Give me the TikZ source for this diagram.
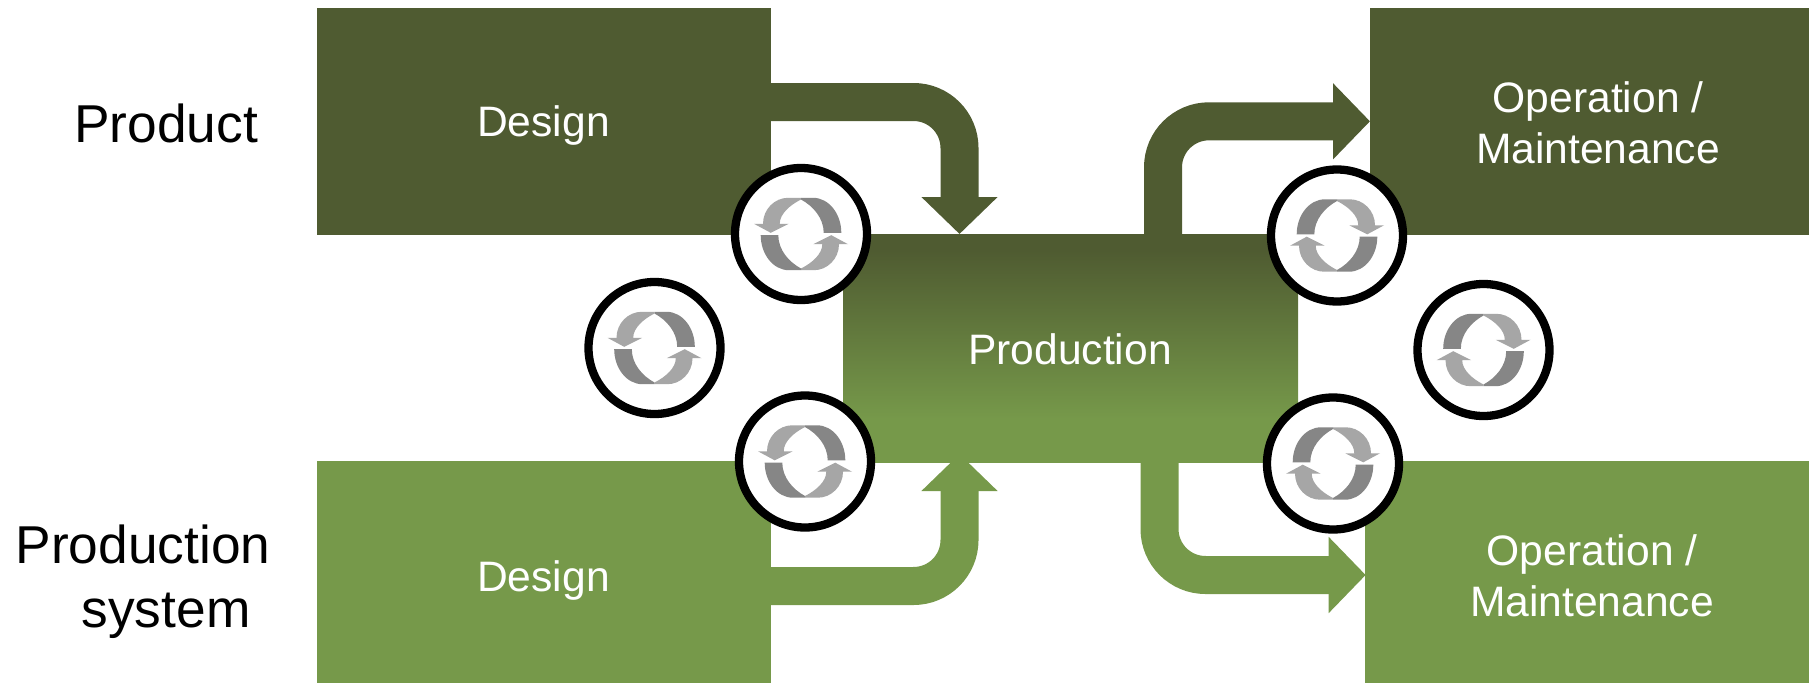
\documentclass[tikz,border=0pt]{standalone}
\usepackage{fontspec}
\setmainfont{Liberation Sans}
\usetikzlibrary{arrows.meta,calc}
\definecolor{darkg}{HTML}{4F5B31}
\definecolor{lightg}{HTML}{76994A}
\definecolor{iconlight}{HTML}{A6A6A6}
\definecolor{icondark}{HTML}{868686}
\pgfdeclareverticalshading{prodgrad}{100bp}{color(0bp)=(lightg); color(34.4bp)=(lightg); color(71.5bp)=(darkg); color(100bp)=(darkg)}
\tikzset{
  blockbox/.style={inner sep=0pt,outer sep=0pt,anchor=north west},
  boxtext/.style={text=white,font=\fontsize{42.6}{51.2}\selectfont,align=center},
  sidetext/.style={text=black,font=\fontsize{53.3}{64}\selectfont,align=center},
  blockarrow/.style={line width=38pt,rounded corners=46pt,-{Triangle[width=74pt,length=37pt]}},
  ring/.style={circle,draw=black,line width=8.3pt,fill=white,minimum size=132pt,inner sep=0pt,outer sep=0pt},
  pics/syncicon/.style={code={
    \foreach \r in {0,180}{
      \begin{scope}[rotate=\r]
        \fill[iconlight] (-38,-10.2) .. controls (-38,-25) and (-26,-36.2) .. (-13,-36.2) -- (0,-36.2) -- (0,-34.5)
          .. controls (-11,-29) and (-21.3,-20) .. (-21.3,-10.2) -- (-12.3,-10.2) -- (-30.3,-1.2) -- (-47,-10.2) -- cycle;
        \fill[icondark] (0,-34.5) -- (0,-36.2) -- (12,-36.2) .. controls (28,-36.2) and (40.3,-20) .. (40.3,-1.2)
          -- (22.7,-1.2) .. controls (22.7,-16) and (12,-28) .. (0,-34.5) -- cycle;
      \end{scope}
    }
  }}
}
\begin{document}
\begin{tikzpicture}[x=1pt,y=-1pt]
\useasboundingbox (0,0) rectangle (1809,683);
% boxes
\node[blockbox,fill=darkg,minimum width=454pt,minimum height=227pt] (d1) at (317,8) {};
\node[blockbox,fill=lightg,minimum width=454pt,minimum height=222pt] (d2) at (317,461) {};
\node[blockbox,shade,shading=prodgrad,minimum width=455pt,minimum height=228pt] (prod) at (843,234) {};
\node[blockbox,fill=darkg,minimum width=439pt,minimum height=227pt] (o1) at (1370,8) {};
\node[blockbox,fill=lightg,minimum width=444pt,minimum height=222pt] (o2) at (1365,461) {};
% arrows
\coordinate (a1s) at (d1.east |- 0,102);
\coordinate (a1e) at (959.5,234);
\coordinate (a2s) at (1163,234);
\coordinate (a2e) at (1370,121.3);
\coordinate (a3s) at (d2.east |- 0,586);
\coordinate (a3e) at (959.5,454);
\coordinate (a4s) at (1159.5,461);
\coordinate (a4e) at (1365.7,575);
\draw[blockarrow,draw=darkg] (a1s) -| (a1e);
\draw[blockarrow,draw=darkg] (a2s) |- (a2e);
\draw[blockarrow,draw=lightg] (a3s) -| (a3e);
\draw[blockarrow,draw=lightg] (a4s) |- (a4e);
% texts
\node[boxtext] (t1) at (543.5,125.5) {Design};
\node[boxtext] (t2) at (543.5,580.5) {Design};
\node[boxtext] (t3) at (1070,349) {Production};
\node[boxtext] (t4) at (1598,123) {Operation /\\Maintenance};
\node[boxtext] (t5) at (1592,575.5) {Operation /\\Maintenance};
\node[sidetext] (s1) at (166,123) {Product};
\node[sidetext] (s2) at (143,581.5) {Production\\\hspace*{46pt}system};
% rings
\node[ring] (c1) at (801,234) {};
\node[ring] (c2) at (654.5,348) {};
\node[ring] (c3) at (805,461.5) {};
\node[ring] (c4) at (1337,235.5) {};
\node[ring] (c5) at (1483.5,350) {};
\node[ring] (c6) at (1333,463.5) {};
\pic at (c1) {syncicon};
\pic at (c2) {syncicon};
\pic at (c3) {syncicon};
\pic[xscale=-1] at (c4) {syncicon};
\pic[xscale=-1] at (c5) {syncicon};
\pic[xscale=-1] at (c6) {syncicon};
\end{tikzpicture}
\end{document}
